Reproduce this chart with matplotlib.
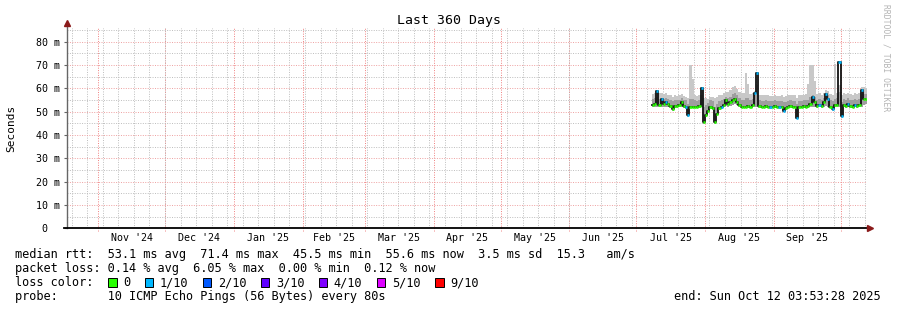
import numpy as np
import matplotlib
matplotlib.use("Agg")
import matplotlib.pyplot as plt
import matplotlib.dates as mdates
from matplotlib.patches import Rectangle
from matplotlib.ticker import MultipleLocator, FuncFormatter
from datetime import datetime, timedelta

# ---------------------------------------------------------------------------
# data (milliseconds), one value per day starting 2025-07-08
# ---------------------------------------------------------------------------
first_day = datetime(2025, 7, 8)

median = [53.0, 53.2, 59.0, 53.0, 55.5, 53.5, 54.0, 53.5, 52.5, 51.0,
          52.5, 52.5, 53.0, 54.0, 52.5, 52.0, 48.5, 52.0, 52.0, 52.0,
          52.0, 52.5, 60.0, 45.5, 48.5, 50.5, 52.0, 51.5, 45.5, 49.0,
          51.5, 52.0, 53.0, 55.0, 53.5, 54.0, 55.0, 55.5, 54.0, 53.0,
          52.0, 52.0, 52.0, 52.5, 52.0, 53.0, 58.0, 66.5, 52.5, 52.0,
          52.0, 52.5, 52.0, 52.0, 52.0, 52.5, 52.0, 52.0, 52.0, 50.5,
          51.5, 52.0, 52.5, 52.0, 52.0, 47.5, 52.0, 52.0, 52.5, 52.0,
          52.5, 53.5, 56.5, 54.0, 52.5, 53.0, 52.5, 54.0, 57.5, 55.5,
          52.0, 51.0, 53.0, 53.0, 71.4, 48.0, 53.0, 52.5, 53.5, 52.5,
          52.0, 53.0, 52.5, 53.0, 59.5, 55.5, 55.6]

# lost pings out of 10
loss = [0, 0, 1, 0, 1, 0, 1, 0, 0, 0,
        0, 0, 0, 0, 0, 1, 1, 0, 0, 0,
        0, 0, 1, 0, 0, 0, 0, 0, 0, 0,
        0, 1, 0, 0, 0, 0, 0, 0, 0, 0,
        0, 0, 0, 0, 0, 0, 1, 1, 0, 0,
        0, 0, 0, 1, 0, 0, 0, 1, 0, 1,
        0, 0, 0, 0, 0, 1, 0, 0, 0, 0,
        0, 0, 1, 0, 0, 1, 0, 0, 1, 1,
        0, 1, 0, 0, 1, 1, 0, 0, 1, 0,
        0, 1, 0, 0, 1, 0, 0]

smoke_lo = [52.0, 52.0, 52.0, 52.0, 52.2, 52.0, 52.2, 52.0, 51.6, 50.4,
            51.6, 51.6, 51.8, 52.0, 51.6, 51.2, 47.8, 51.4, 51.4, 51.4,
            51.4, 51.6, 52.0, 44.8, 47.8, 49.8, 51.2, 50.8, 44.8, 48.4,
            50.8, 51.2, 51.8, 52.4, 52.2, 52.6, 53.0, 53.4, 52.8, 52.0,
            51.4, 51.4, 51.4, 51.6, 51.4, 51.8, 51.8, 51.8, 51.6, 51.4,
            51.4, 51.6, 51.4, 51.2, 51.4, 51.6, 51.4, 51.2, 51.4, 49.8,
            50.8, 51.4, 51.6, 51.4, 51.4, 46.8, 51.4, 51.4, 51.6, 51.4,
            51.6, 52.0, 52.2, 52.2, 51.6, 51.8, 51.6, 52.2, 52.4, 52.2,
            51.4, 50.4, 51.8, 51.8, 52.0, 47.4, 51.8, 51.6, 52.0, 51.6,
            51.4, 51.8, 51.6, 51.8, 52.2, 53.0, 53.2]

smoke_mid = [55.5, 55.8, 56.5, 55.5, 56.0, 55.5, 55.8, 55.3, 55.0, 54.5,
             55.0, 54.8, 55.2, 55.8, 55.0, 54.8, 53.5, 55.5, 55.5, 54.8,
             54.6, 55.0, 57.0, 52.0, 53.0, 53.8, 54.8, 54.5, 52.0, 53.2,
             54.5, 55.0, 55.5, 56.5, 56.0, 56.5, 57.5, 58.0, 57.0, 56.0,
             55.2, 55.2, 55.8, 55.8, 55.0, 55.5, 57.0, 58.0, 55.0, 54.6,
             54.6, 54.8, 54.6, 54.6, 54.5, 54.8, 54.6, 54.6, 54.6, 54.0,
             54.3, 54.6, 54.8, 54.6, 54.6, 53.2, 54.6, 54.6, 54.8, 54.8,
             55.2, 56.2, 57.2, 56.5, 55.2, 55.5, 55.0, 56.0, 57.5, 57.0,
             55.0, 54.5, 55.5, 55.8, 58.5, 54.0, 55.5, 55.2, 55.8, 55.2,
             54.8, 55.5, 55.0, 55.5, 57.5, 57.5, 57.5]

smoke_hi = [57.5, 58.0, 59.5, 57.8, 58.0, 57.5, 57.8, 57.2, 57.0, 56.5,
            57.0, 56.8, 57.0, 57.5, 56.8, 56.5, 56.0, 70.0, 64.0, 57.0,
            56.8, 57.0, 60.5, 56.0, 56.0, 55.5, 56.5, 56.5, 56.0, 56.2,
            57.0, 57.2, 57.8, 58.5, 58.5, 59.5, 60.5, 60.8, 59.8, 58.5,
            57.8, 58.0, 66.5, 62.0, 57.5, 57.8, 59.0, 61.5, 57.2, 57.0,
            57.0, 57.2, 57.0, 56.8, 56.8, 57.0, 56.8, 56.8, 57.0, 56.5,
            56.8, 57.0, 57.2, 57.0, 57.0, 56.0, 57.0, 57.0, 57.2, 57.5,
            62.0, 70.0, 70.0, 63.0, 57.5, 57.8, 57.2, 58.0, 59.5, 59.0,
            57.5, 57.0, 70.5, 58.0, 61.5, 57.0, 57.8, 57.5, 58.0, 57.5,
            57.2, 57.8, 57.5, 58.0, 60.5, 60.5, 60.0]

loss_labels = ["0", "1/10", "2/10", "3/10", "4/10", "5/10", "9/10"]
loss_values = [0, 1, 2, 3, 4, 5, 9]
loss_colors = ["#26ff00", "#00b8ff", "#0059ff", "#5e00ff", "#7e00ff", "#dd00ff", "#ff0000"]

stats_rtt = "median rtt:  53.1 ms avg  71.4 ms max  45.5 ms min  55.6 ms now  3.5 ms sd  15.3   am/s"
stats_loss = "packet loss: 0.14 % avg  6.05 % max  0.00 % min  0.12 % now"
probe_text = "probe:       10 ICMP Echo Pings (56 Bytes) every 80s"
end_text = "end: Sun Oct 12 03:53:28 2025"

# ---------------------------------------------------------------------------
W, H = 897, 310
MONO = "DejaVu Sans Mono"
plt.rcParams["font.family"] = MONO

def fx(x):
    return x / W

def fy(y):
    return 1 - y / H

fig = plt.figure(figsize=(W / 100, H / 100), dpi=100)
fig.patch.set_facecolor("white")
ax = fig.add_axes([fx(66.7), fy(228.3), 800 / W, 200 / H])
ax.set_facecolor("white")

start = datetime(2024, 10, 17, 18, 40)
end = start + timedelta(days=360)
ax.set_xlim(start, end)
ax.set_ylim(0, 85.75)

days = [first_day + timedelta(days=i) for i in range(len(median))]
days_end = [d + timedelta(days=1) for d in days]

# smoke
ax.bar(days, np.subtract(smoke_hi, smoke_lo), bottom=smoke_lo, width=1.0,
       align="edge", color="#c8c8c8", linewidth=0, zorder=2)
ax.bar(days, np.subtract(smoke_mid, smoke_lo), bottom=smoke_lo, width=1.0,
       align="edge", color="#9e9e9e", linewidth=0, zorder=2.1)

# median, coloured by loss
color_of = dict(zip(loss_values, loss_colors))
ax.step(days, median, where="post", color="#111111", lw=1.3, zorder=3)
ax.hlines(median, days, days_end, colors=[color_of[l] for l in loss], lw=1.9, zorder=3.5)

# grid
ax.yaxis.set_major_locator(MultipleLocator(10))
ax.yaxis.set_minor_locator(MultipleLocator(5))
ax.yaxis.set_major_formatter(FuncFormatter(lambda v, p: "0  " if v == 0 else f"{v:.0f} m"))
ax.grid(which="minor", axis="y", color="#bdbdbd", ls=(0, (1, 1.5)), lw=0.7, zorder=0)
ax.grid(which="major", axis="y", color="#eea0a0", ls=(0, (1, 1.5)), lw=0.7, zorder=0.1)

ax.xaxis.set_minor_locator(mdates.WeekdayLocator(byweekday=mdates.SU))
ax.grid(which="minor", axis="x", color="#bdbdbd", ls=(0, (1, 1.5)), lw=0.7, zorder=0)

month_starts = [datetime(2024 + (10 + i) // 12, (10 + i) % 12 + 1, 1) for i in range(12)]
for m in month_starts:
    ax.axvline(m, ymin=-0.012, ymax=1, color="#f08080", ls=(0, (1, 1.5)), lw=0.7,
               zorder=0.2, clip_on=False)
mids = [a + (b - a) / 2 for a, b in zip(month_starts[:-1], month_starts[1:])]
ax.set_xticks(mids)
ax.xaxis.set_major_formatter(mdates.DateFormatter("%b '%y"))

ax.tick_params(axis="x", which="major", length=0, pad=3.5, labelsize=7.2)
ax.tick_params(axis="x", which="minor", length=0)
ax.tick_params(axis="y", which="major", length=2, pad=2.8, labelsize=7.2, color="#666666")
ax.tick_params(axis="y", which="minor", length=0)

for s in ax.spines.values():
    s.set_visible(False)
ax.plot([0, 0], [0, 1.02], transform=ax.transAxes, color="#666666", lw=1, clip_on=False, zorder=5)
ax.plot([-0.003, 1.0], [0, 0], transform=ax.transAxes, color="black", lw=1.3, clip_on=False, zorder=5)
ax.plot([0], [1.026], marker="^", ms=4, color="#8b1a1a", transform=ax.transAxes, clip_on=False, zorder=6)
ax.plot([1.004], [0], marker=">", ms=4, color="#8b1a1a", transform=ax.transAxes, clip_on=False, zorder=6)

# texts
fig.text(0.5, fy(24), "Last 360 Days", ha="center", va="baseline", fontsize=9.5)
fig.text(fx(11), fy(128), "Seconds", rotation=90, ha="center", va="center", fontsize=8)
fig.text(fx(886), fy(4), "RRDTOOL / TOBI OETIKER", rotation=270, ha="center", va="top",
         fontsize=5.8, color="#b4b4b4")

LS = 8.55
fig.text(fx(15), fy(258.3), stats_rtt, ha="left", va="baseline", fontsize=LS)
fig.text(fx(15), fy(272.2), stats_loss, ha="left", va="baseline", fontsize=LS)
fig.text(fx(15), fy(286.1), "loss color:", ha="left", va="baseline", fontsize=LS)
fig.text(fx(15), fy(300), probe_text, ha="left", va="baseline", fontsize=LS)
fig.text(fx(881), fy(300), end_text, ha="right", va="baseline", fontsize=LS)

bx = 108.3
for lab, col in zip(loss_labels, loss_colors):
    fig.patches.append(Rectangle((fx(bx), fy(286.8)), 8.5 / W, 8.5 / H, transform=fig.transFigure,
                                 facecolor=col, edgecolor="black", lw=0.7))
    fig.text(fx(bx + 15), fy(286.1), lab, ha="left", va="baseline", fontsize=LS)
    bx += (len(lab) + 4) * 7.26

fig.savefig("out.png", dpi=100, facecolor="white")
